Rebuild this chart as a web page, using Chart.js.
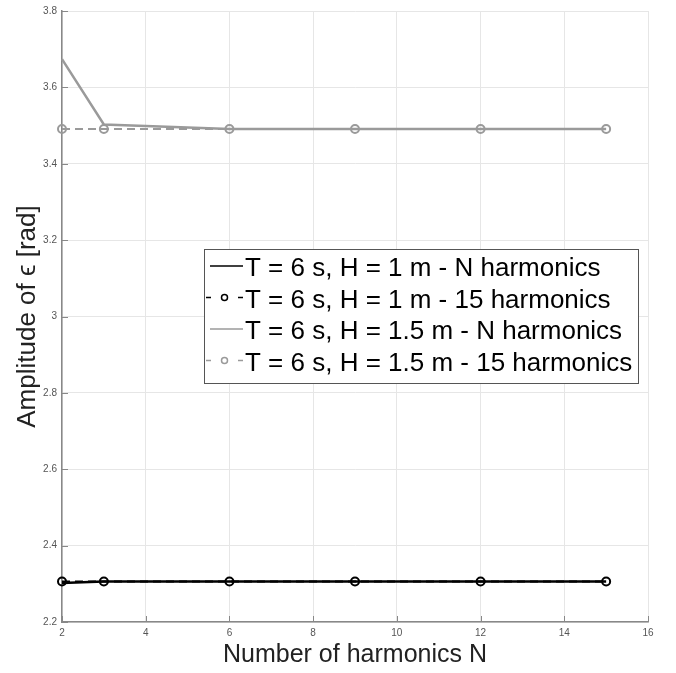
<!DOCTYPE html>
<html>
<head>
<meta charset="utf-8">
<script src="https://cdn.jsdelivr.net/npm/chart.js@4.4.0/dist/chart.umd.min.js"></script>
<style>
  html, body { margin: 0; padding: 0; background: #fff; }
  #wrap { width: 676px; height: 673px; }
</style>
</head>
<body>
<div id="wrap"><canvas id="canvasHarmonics" width="676" height="673"></canvas></div>
<script>
// number of harmonics used
var harmonics = [2, 3, 6, 9, 12, 15];
// amplitude of epsilon [rad]
var h1N = [2.302, 2.306, 2.306, 2.306, 2.306, 2.306];
var h1Full = [2.306, 2.306, 2.306, 2.306, 2.306, 2.306];
var h15N = [3.674, 3.503, 3.491, 3.491, 3.491, 3.491];
var h15Full = [3.491, 3.491, 3.491, 3.491, 3.491, 3.491];

var labels = [
  'T = 6 s, H = 1 m - N harmonics',
  'T = 6 s, H = 1 m - 15 harmonics',
  'T = 6 s, H = 1.5 m - N harmonics',
  'T = 6 s, H = 1.5 m - 15 harmonics'
];
var xTicks = [2, 4, 6, 8, 10, 12, 14, 16];
var yTicks = [2.2, 2.4, 2.6, 2.8, 3, 3.2, 3.4, 3.6, 3.8];

var black = '#000000';
var grey = '#9a9a9a';

function pts(ys) {
  var out = [];
  for (var i in harmonics) {
    out.push({x: harmonics[i], y: ys[i]});
  }
  return out;
}

Chart.defaults.font.family = "'Liberation Sans', Arial, sans-serif";

// legend inside the plot, drawn like the matlab one
var boxLegend = {
  id: 'boxLegend',
  afterDraw: function(chart) {
    var ctx = chart.ctx;
    var x0 = 204, y0 = 249, w = 434, h = 134;
    ctx.save();
    ctx.fillStyle = '#fff';
    ctx.fillRect(x0, y0, w, h);
    ctx.strokeStyle = '#555';
    ctx.lineWidth = 1;
    ctx.strokeRect(x0 + 0.5, y0 + 0.5, w, h);
    ctx.font = "26px 'Liberation Sans', Arial, sans-serif";
    ctx.textBaseline = 'alphabetic';
    var sets = chart.data.datasets;
    for (var i = 0; i < sets.length; i++) {
      var base = 276 + i * 31.5;
      var cy = base - 10;
      var ds = sets[i];
      ctx.strokeStyle = ds.borderColor;
      ctx.lineWidth = 1.6;
      ctx.beginPath();
      if (ds.borderDash && ds.borderDash.length) {
        ctx.moveTo(206, cy); ctx.lineTo(211, cy);
        ctx.moveTo(238, cy); ctx.lineTo(243, cy);
        ctx.stroke();
        ctx.beginPath();
        ctx.lineWidth = 1.5;
        ctx.arc(224.5, cy, 3, 0, Math.PI * 2);
        ctx.stroke();
      } else {
        ctx.moveTo(210, cy); ctx.lineTo(243, cy);
        ctx.stroke();
      }
      ctx.fillStyle = '#000';
      ctx.fillText(ds.label, 245, base);
    }
    ctx.restore();
  }
};

// inward tick marks
var innerTicks = {
  id: 'innerTicks',
  afterDatasetsDraw: function(chart) {
    var ctx = chart.ctx;
    var xs = chart.scales.x, ys = chart.scales.y;
    var a = chart.chartArea;
    ctx.save();
    ctx.strokeStyle = '#888';
    ctx.lineWidth = 1;
    xTicks.forEach(function(v) {
      var px = Math.round(xs.getPixelForValue(v)) + 0.5;
      ctx.beginPath(); ctx.moveTo(px, a.bottom); ctx.lineTo(px, a.bottom - 6); ctx.stroke();
    });
    yTicks.forEach(function(v) {
      var py = Math.round(ys.getPixelForValue(v)) + 0.5;
      ctx.beginPath(); ctx.moveTo(a.left, py); ctx.lineTo(a.left + 6, py); ctx.stroke();
    });
    ctx.restore();
  }
};

var chartdata = {
  datasets: [
    {
      label: labels[0],
      data: pts(h1N),
      borderColor: black,
      backgroundColor: black,
      borderWidth: 2.5,
      pointRadius: 0
    },
    {
      label: labels[1],
      data: pts(h1Full),
      borderColor: black,
      backgroundColor: 'rgba(0,0,0,0)',
      borderWidth: 2,
      borderDash: [8, 5],
      pointRadius: 4,
      pointBorderWidth: 2,
      pointBorderColor: black,
      pointBackgroundColor: 'rgba(0,0,0,0)'
    },
    {
      label: labels[2],
      data: pts(h15N),
      borderColor: grey,
      backgroundColor: grey,
      borderWidth: 2.5,
      pointRadius: 0
    },
    {
      label: labels[3],
      data: pts(h15Full),
      borderColor: grey,
      backgroundColor: 'rgba(0,0,0,0)',
      borderWidth: 2,
      borderDash: [8, 5],
      pointRadius: 4,
      pointBorderWidth: 2,
      pointBorderColor: grey,
      pointBackgroundColor: 'rgba(0,0,0,0)'
    }
  ]
};

var ctx = document.getElementById('canvasHarmonics');

var lineGraph = new Chart(ctx, {
  type: 'line',
  data: chartdata,
  plugins: [innerTicks, boxLegend],
  options: {
    responsive: false,
    animation: false,
    clip: false,
    layout: { padding: { top: 7, right: 28, left: 0, bottom: 0 } },
    plugins: {
      legend: { display: false },
      tooltip: { enabled: false }
    },
    scales: {
      x: {
        type: 'linear',
        min: 2,
        max: 16,
        afterFit: function(scale) { scale.height = 51; },
        afterBuildTicks: function(scale) {
          scale.ticks = xTicks.map(function(v) { return {value: v}; });
        },
        grid: { color: '#e6e6e6', lineWidth: 1, drawTicks: false },
        border: { display: true, color: '#888', width: 1.5 },
        ticks: { color: '#555', font: { size: 10 }, padding: 5, maxRotation: 0 },
        title: {
          display: true,
          text: 'Number of harmonics N',
          color: '#222',
          font: { size: 25 },
          padding: { top: 0, bottom: 3 }
        }
      },
      y: {
        type: 'linear',
        min: 2.2,
        max: 3.8,
        afterFit: function(scale) { scale.width = 62; },
        afterBuildTicks: function(scale) {
          scale.ticks = yTicks.map(function(v) { return {value: v}; });
        },
        grid: { color: '#e6e6e6', lineWidth: 1, drawTicks: false },
        border: { display: true, color: '#888', width: 1.5 },
        ticks: {
          color: '#555',
          font: { size: 10 },
          padding: 5,
          callback: function(v) { return String(parseFloat(v.toFixed(1))); }
        },
        title: {
          display: true,
          text: 'Amplitude of \u03f5 [rad]',
          color: '#222',
          font: { size: 26 },
          padding: { top: 12, bottom: 0 }
        }
      }
    }
  }
});
</script>
</body>
</html>
